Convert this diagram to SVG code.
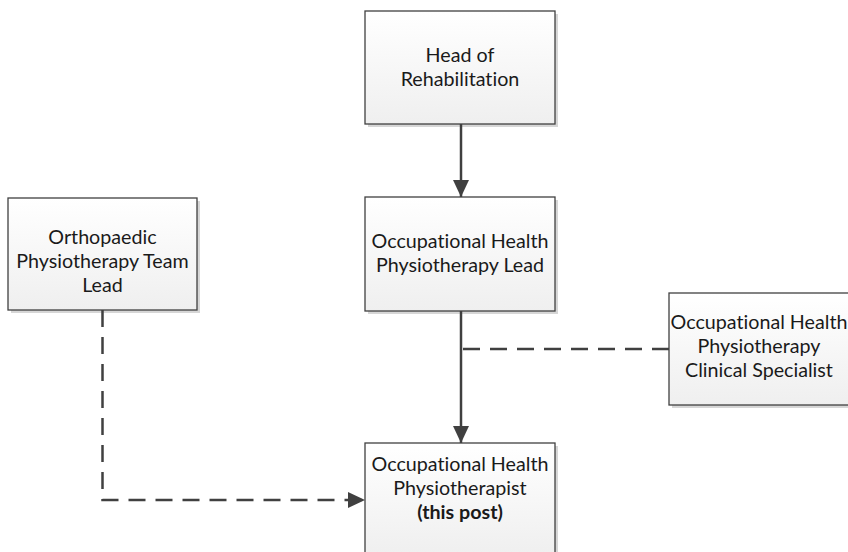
<svg xmlns="http://www.w3.org/2000/svg" width="848" height="552" viewBox="0 0 848 552">
<defs>
<linearGradient id="g" x1="0" y1="0" x2="0" y2="1">
<stop offset="0" stop-color="#ffffff"/>
<stop offset="1" stop-color="#efefef"/>
</linearGradient>
<marker id="ah" markerWidth="17" markerHeight="16" refX="17" refY="8" orient="auto" markerUnits="userSpaceOnUse">
<path d="M0,0 L17,8 L0,16 Z" fill="#404040"/>
</marker>
</defs>
<style>
.sh{fill:#d6d6d6;}
.box{fill:url(#g);stroke:#404040;stroke-width:1.3;}
text{font-family:Lato,"Liberation Sans",sans-serif;font-size:19.7px;fill:#1a1a1a;text-anchor:middle;font-variant-ligatures:none;}
.b{font-weight:bold;}
.ln{fill:none;stroke:#404040;stroke-width:2.5;}
.d{stroke-dasharray:17,10;}
</style>
<g id="head">
<rect class="sh" x="368" y="14" width="190" height="113"/>
<rect class="box" x="365" y="11" width="190" height="113"/>
<text x="460" y="62">Head of</text>
<text x="460" y="86">Rehabilitation</text>
</g>
<g id="ortho">
<rect class="sh" x="11" y="201" width="189" height="112"/>
<rect class="box" x="8" y="198" width="189" height="112"/>
<text x="102.5" y="244">Orthopaedic</text>
<text x="102.5" y="268">Physiotherapy Team</text>
<text x="102.5" y="292">Lead</text>
</g>
<g id="lead">
<rect class="sh" x="368" y="200" width="190" height="114"/>
<rect class="box" x="365" y="197" width="190" height="114"/>
<text x="460" y="248">Occupational Health</text>
<text x="460" y="272">Physiotherapy Lead</text>
</g>
<g id="spec">
<rect class="sh" x="672" y="296" width="190" height="112"/>
<rect class="box" x="669" y="293" width="190" height="112"/>
<text x="759" y="329">Occupational Health</text>
<text x="759" y="353">Physiotherapy</text>
<text x="759" y="377">Clinical Specialist</text>
</g>
<g id="post">
<rect class="sh" x="368" y="446" width="190" height="113"/>
<rect class="box" x="365" y="443" width="190" height="113"/>
<text x="460" y="471">Occupational Health</text>
<text x="460" y="495">Physiotherapist</text>
<text class="b" x="460" y="519">(this post)</text>
</g>
<g id="connectors">
<line class="ln" x1="461" y1="124" x2="461" y2="197" marker-end="url(#ah)"/>
<line class="ln" x1="461" y1="311" x2="461" y2="443" marker-end="url(#ah)"/>
<line class="ln d" x1="669" y1="349" x2="462" y2="349"/>
<polyline class="ln d" points="102.5,310 102.5,500 365,500" marker-end="url(#ah)"/>
</g>
</svg>
